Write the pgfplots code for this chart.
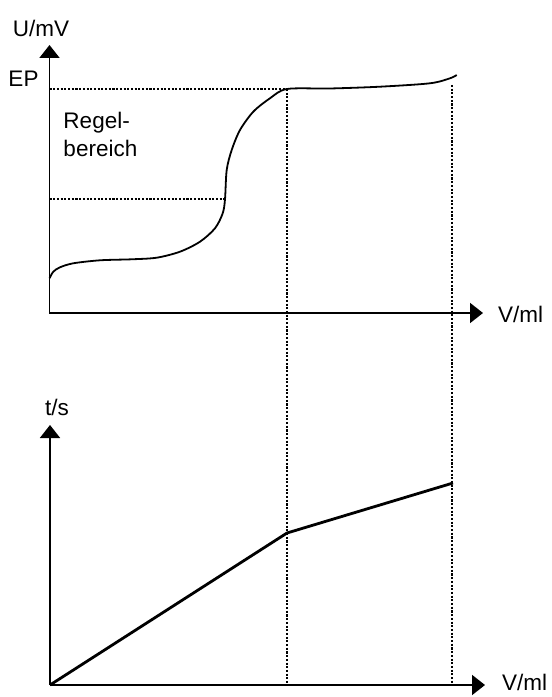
\documentclass[border=0pt]{standalone}
\usepackage{pgfplots}
\pgfplotsset{compat=1.18}
\usetikzlibrary{arrows.meta}
\usepackage{fontspec}
\setmainfont{Liberation Sans}

\begin{document}
\fontsize{22.5bp}{27bp}\selectfont
\begin{tikzpicture}[x=1bp,y=1bp]
\pgfplotsset{
  sketch/.style={
    scale only axis, axis lines=left, xmin=0, ymin=0,
    xtick=\empty, ytick=\empty, clip=false,
    axis line style={line width=1.8bp, -{Triangle[length=13bp,width=20bp]}},
    anchor=origin,
  },
  guide/.style={black, line width=2.3bp, dash pattern=on 2.1bp off 1.6bp},
}
% titration curve
\begin{axis}[sketch, at={(0,0)}, width=433.5bp, height=268bp, xmax=433.5, ymax=268]
  \addplot[black, line width=1.8bp, smooth, tension=0.5] coordinates {
    (0,34.7) (3.8,41.3) (10.5,45.7) (23.8,49.7) (50.5,52.7) (82.2,53.7)
    (107.2,55.3) (130.5,61.3) (150.5,71.3) (165.5,84.7) (173.2,99.7)
    (175.5,113.7) (177.2,143) (182.2,163) (190.5,183) (203.8,201.3)
    (220.5,214.7) (237.5,224) (280.5,224.5) (330.5,226.3) (380.5,229.7)
    (400.5,234.7) (407.2,238)
  };
  \addplot[guide] coordinates {(0,224) (237.5,224)};
  \addplot[guide] coordinates {(0,113.7) (175.5,113.7)};
  \addplot[guide] coordinates {(237.5,224) (237.5,-372)};
  \addplot[guide] coordinates {(402.5,228) (402.5,-372)};
\end{axis}
% time vs volume
\begin{axis}[sketch, at={(0.5,-372)}, width=435bp, height=260bp, xmax=435, ymax=260]
  \addplot[black, line width=2.8bp] coordinates {(0,0) (237,152) (403,202)};
\end{axis}
\path (-36.8,276.3) node[anchor=base west, inner sep=0] {U/mV};
\path (-41.2,226.3) node[anchor=base west, inner sep=0] {EP};
\path (13.8,184.7) node[anchor=base west, inner sep=0] {Regel-};
\path (13.8,156.3) node[anchor=base west, inner sep=0] {bereich};
\path (448.5,-9.3) node[anchor=base west, inner sep=0] {V/ml};
\path (-4.5,-103) node[anchor=base west, inner sep=0] {t/s};
\path (452.5,-377.5) node[anchor=base west, inner sep=0] {V/ml};
\pgfresetboundingbox
\path[use as bounding box] (-49.5,-384) rectangle (502.5,313);
\end{tikzpicture}
\end{document}
